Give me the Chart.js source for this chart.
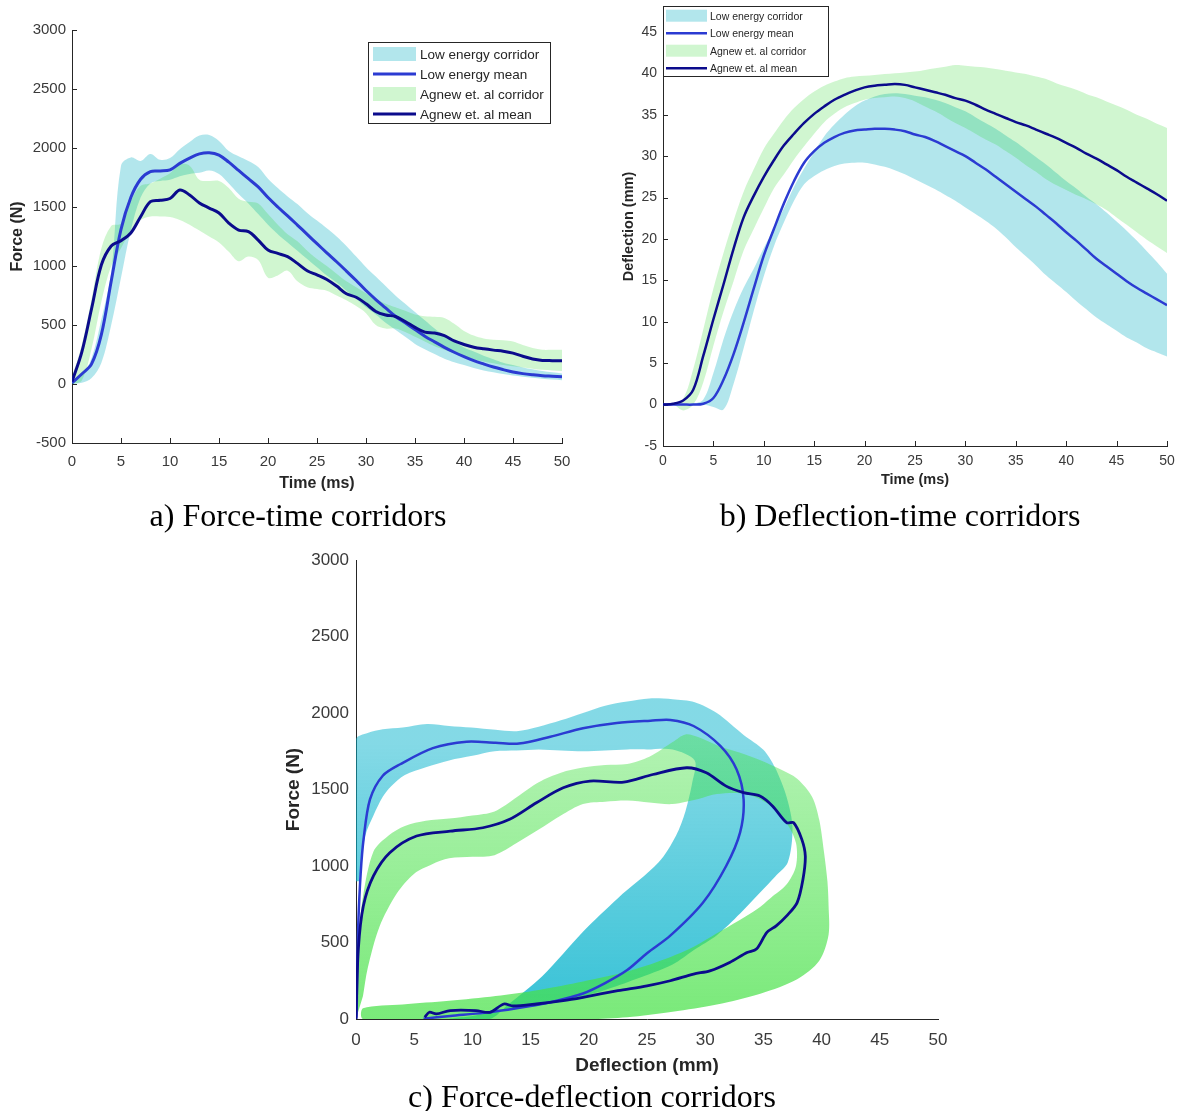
<!DOCTYPE html>
<html><head><meta charset="utf-8">
<script src="https://cdn.jsdelivr.net/npm/chart.js@4.4.1/dist/chart.umd.min.js"></script>
<style>
html,body{margin:0;padding:0;background:#fff;width:1179px;height:1111px;overflow:hidden;position:relative}
canvas{position:absolute}
.cap{position:absolute;font-family:"Liberation Serif","Times New Roman",serif;font-size:32px;line-height:32px;color:#000;white-space:nowrap;transform:translateX(-50%)}
</style></head><body>
<canvas id="ca" width="590" height="500" style="left:0;top:0"></canvas>
<canvas id="cb" width="579" height="500" style="left:600px;top:0"></canvas>
<canvas id="cc" width="700" height="540" style="left:270px;top:540px"></canvas>
<div class="cap" style="left:298px;top:499px">a) Force-time corridors</div>
<div class="cap" style="left:900px;top:499px">b) Deflection-time corridors</div>
<div class="cap" style="left:592px;top:1080px">c) Force-deflection corridors</div>
<script>
// ---------------- DATA ----------------
const timeMs = [0,1,2,3,4,5,6,7,8,9,10,11,12,13,14,15,16,17,18,19,20,21,22,23,24,25,26,27,28,29,30,31,32,33,34,35,36,37,38,39,40,41,42,43,44,45,46,47,48,49,50];

// a) Force-time (N)
const forceLowMean   = [10,85,170,420,870,1310,1580,1735,1800,1805,1815,1870,1915,1950,1960,1940,1880,1810,1740,1670,1580,1500,1425,1347,1268,1189,1112,1036,957,877,792,716,645,574,518,461,405,357,311,269,232,198,170,144,122,102,88,78,70,66,62];
const forceLowUpper  = [30,70,220,550,950,1850,1920,1890,1950,1900,1915,1990,2050,2105,2110,2060,1975,1930,1890,1840,1740,1660,1590,1525,1450,1385,1320,1250,1170,1080,990,910,830,750,680,610,540,470,410,360,310,275,240,210,180,160,140,125,110,100,90];
const forceLowLower  = [0,10,50,180,500,900,1300,1580,1700,1720,1730,1760,1780,1790,1810,1780,1700,1610,1530,1440,1350,1270,1200,1130,1060,990,920,860,790,720,650,590,520,460,400,340,295,255,215,185,160,135,115,100,85,72,62,52,45,38,32];
const forceAgnewMean = [20,270,640,1010,1170,1215,1280,1418,1545,1557,1572,1644,1602,1534,1491,1449,1364,1305,1291,1220,1136,1107,1079,1022,960,925,886,830,765,735,680,615,585,572,530,480,440,432,410,365,335,312,298,287,278,262,235,212,200,198,197];
const forceAgnewUpper= [60,330,720,1150,1340,1360,1550,1680,1700,1740,1785,1860,1850,1730,1720,1720,1660,1570,1545,1530,1440,1350,1270,1210,1130,1060,1000,935,870,820,770,720,680,650,620,590,575,570,560,510,450,410,385,375,370,360,330,305,290,290,290];
const forceAgnewLower= [0,30,300,700,1000,1150,1300,1390,1420,1420,1415,1390,1350,1300,1250,1200,1120,1040,1080,1050,900,920,960,870,820,805,790,750,710,660,600,500,470,470,440,400,360,320,290,260,230,210,190,175,160,150,140,130,120,115,110];

// b) Deflection-time (mm)
const deflLowMean    = [0,0,0,0,0.1,0.8,3.0,6.1,9.9,14,18,21.2,24.3,27,29.2,30.6,31.6,32.3,32.8,33.1,33.2,33.3,33.3,33.2,33.0,32.6,32.3,31.8,31.2,30.6,30.0,29.2,28.4,27.5,26.6,25.7,24.8,23.9,22.9,21.9,20.8,19.8,18.7,17.6,16.7,15.8,14.9,14.1,13.4,12.7,12.0];
const deflLowUpper   = [0,0,0,0.1,0.6,3.8,7.9,11.3,14.1,16.4,18.9,21.3,23.7,26.3,28.5,30.5,32.4,33.8,35.0,36.0,36.7,37.2,37.5,37.6,37.5,37.3,37.1,36.8,36.4,35.9,35.4,34.7,34.0,33.3,32.5,31.7,30.8,29.9,29.0,28.0,27.0,26.1,25.1,24.2,23.2,22.1,21.0,19.8,18.5,17.2,15.8];
const deflLowLower   = [0,0,0,0,0,-0.3,-0.6,2.5,6.8,11.3,15.5,19.1,22.0,24.6,26.6,27.6,28.3,28.8,29.1,29.2,29.2,29.0,28.7,28.3,27.8,27.2,26.6,26.0,25.3,24.6,23.8,23.0,22.2,21.3,20.2,19.0,17.9,16.8,15.6,14.6,13.6,12.5,11.5,10.5,9.7,8.9,8.1,7.5,6.8,6.3,5.8];
const deflAgnewMean  = [0,0.1,0.5,1.8,5.9,10.3,14.5,18.8,22.6,25.2,27.5,29.5,31.3,32.7,34.0,35.1,36.0,36.8,37.4,37.9,38.3,38.5,38.6,38.7,38.6,38.3,38.0,37.7,37.4,37.0,36.7,36.2,35.6,35.1,34.6,34.1,33.7,33.2,32.7,32.2,31.6,31.0,30.3,29.7,29.0,28.3,27.5,26.8,26.1,25.4,24.6];
const deflAgnewUpper = [0,0,0.7,4.3,9.1,14,18.3,22.2,25.7,28.4,30.9,32.7,34.4,35.8,36.9,37.8,38.5,39.0,39.4,39.6,39.7,39.8,39.9,40.0,40.1,40.2,40.4,40.6,40.8,41.0,40.9,40.8,40.7,40.5,40.3,40.1,39.9,39.6,39.3,38.8,38.4,38.0,37.5,37.1,36.6,36.1,35.6,35.0,34.5,33.9,33.4];
const deflAgnewLower = [0,0,-0.7,0,2.7,7.1,11.2,14.9,18.6,21.2,23.7,26.1,27.8,29.6,31.2,32.7,34.1,35.1,35.9,36.4,36.8,37.0,37.1,37.2,37.0,36.6,36.0,35.4,34.7,34.0,33.4,32.7,32.0,31.4,30.6,29.8,28.9,28.1,27.2,26.5,25.9,25.3,24.8,24.2,23.5,22.6,21.7,20.8,19.9,19.1,18.3];

// c) Force-deflection: mean loops (deflection mm, force N)
const fdLowMeanDefl   = [0,0.05,0.1,0.2,0.4,0.65,1.2,2.3,3.8,6.6,9.5,12,14,16.7,19.5,22.4,25.3,27,29,31.3,32.7,33.3,33.0,31.8,29.8,27,25,23.3,21.4,19.5,16.7,13.8,11,8.1,5.8];
const fdLowMeanForce  = [0,20,300,630,950,1175,1435,1590,1665,1770,1812,1805,1800,1845,1900,1935,1950,1955,1915,1785,1630,1435,1220,1000,760,545,430,320,235,167,110,70,40,20,2];
const fdAgnewMeanDefl = [0,0.2,0.63,1.5,2.9,5.2,8.1,10.9,13.2,15.5,17.8,20.1,23,25.5,28.4,30.1,31.8,33.3,34.7,35.8,37.0,37.6,38.3,38.6,38.4,37.9,37.0,36.1,35.3,34.4,33.6,32.1,30.4,29,27,25,22.5,19.5,17.8,15.5,13.5,12.7,11.5,10.3,8.1,6.9,6.3,5.9];
const fdAgnewMeanForce= [0,457,739,935,1087,1196,1228,1250,1305,1413,1511,1555,1548,1598,1642,1609,1522,1479,1457,1391,1283,1283,1174,1065,913,761,674,609,566,457,435,370,315,294,250,217,185,142,120,98,85,98,44,55,55,33,44,11];
// c) corridor outlines (outer edge, then inner edge back)
const fdLowCorridorDefl  = [0,0,0,1,2.3,4,6.1,8,9.9,12,13.8,15.7,17.6,19.5,21.4,23.3,25.2,27.2,29.1,31,33.3,35,36,37,37.5,37.1,36,34.8,33,31,29,27.2,24,21.4,18,15,11.9,10,8,
  11.5,13,16,19.5,22.5,26,27.5,28.3,28.9,29.1,27.2,25,23.3,21.4,19.5,17.6,15.7,13.8,11.9,10,8,6,4.2,3,2.3,1.5,0.8,0.4,0.3];
const fdLowCorridorForce = [900,1400,1830,1870,1893,1905,1928,1915,1905,1890,1881,1910,1952,2000,2048,2075,2095,2090,2071,2000,1857,1760,1643,1450,1250,1024,930,833,690,548,450,357,260,190,120,80,48,20,0,
  0,90,280,571,790,1024,1200,1357,1550,1690,1762,1762,1762,1755,1750,1755,1762,1755,1750,1720,1690,1645,1595,1520,1452,1330,1200,1000,900];
const fdAgnewCorridorDefl  = [0,0,0.2,0.6,1.5,2.8,4.2,6,8,10,11.9,13.8,15.7,17.6,19.5,21.4,23.3,25.2,27.2,28.3,29.5,31,33,34.8,36.5,37.9,39.2,39.8,40.2,40.5,40.6,40.6,39.8,37.9,34.8,31,27.2,23.3,20,10,0.6,
  0.6,4,8,12,15.7,19.5,23.3,26.5,29.1,31,32.9,34.5,35.6,37,37.8,37.8,37,35.5,33.5,31,29.5,27.2,25.2,23.3,21.4,19.5,17.6,15.7,13.8,11.9,10,8,6.5,5,3.5,2,1,0.6];
const fdAgnewCorridorForce = [0,250,500,800,1095,1200,1262,1295,1310,1330,1357,1450,1548,1610,1643,1660,1667,1714,1810,1860,1840,1790,1740,1690,1630,1570,1450,1300,1095,900,740,550,380,260,167,95,48,12,0,0,0,
  70,95,119,150,190,245,310,390,476,560,643,720,790,880,1000,1150,1280,1400,1470,1470,1440,1405,1415,1428,1420,1405,1330,1238,1150,1071,1060,1050,1010,950,820,600,330,150];

const legendLabels = ['Low energy corridor','Low energy mean','Agnew et. al corridor','Agnew et. al mean'];

// ---------------- STYLE ----------------
const LOW_MEAN = '#2b3bd2', AGNEW_MEAN = '#0b0b8c';
const CYAN_AB = 'rgba(0,172,192,0.30)', GREEN_AB = 'rgba(20,210,20,0.20)';
const AXIS = '#262626', TICKC = '#3a3a3a';
const SANS = '"Liberation Sans", Arial, Helvetica, sans-serif';

const pts = (xs, ys) => xs.map((x, i) => ({x, y: ys[i]}));

// vertical gradient (lighter at the top) for the force-deflection corridors
function vGrad(rgb, aBottom, aTop) {
  return (c) => {
    const ch = c.chart, a = ch.chartArea;
    if (!a) return `rgba(${rgb},${aBottom})`;
    const g = ch.ctx.createLinearGradient(0, a.bottom, 0, a.top);
    g.addColorStop(0, `rgba(${rgb},${aBottom})`);
    g.addColorStop(0.3, `rgba(${rgb},${(aBottom + aTop) / 2})`);
    g.addColorStop(0.6, `rgba(${rgb},${aTop})`);
    g.addColorStop(1, `rgba(${rgb},${aTop})`);
    return g;
  };
}

const inwardTicks = {
  id: 'inwardTicks',
  beforeDatasetsDraw(chart, args, o) {
    const ctx = chart.ctx, a = chart.chartArea, len = o.length || 5;
    const xs = chart.scales.x, ys = chart.scales.y;
    ctx.save(); ctx.strokeStyle = AXIS; ctx.lineWidth = 1; ctx.beginPath();
    xs.ticks.forEach(t => { const p = Math.round(xs.getPixelForValue(t.value)) + 0.5; ctx.moveTo(p, a.bottom); ctx.lineTo(p, a.bottom - len); });
    ys.ticks.forEach(t => { const p = Math.round(ys.getPixelForValue(t.value)) + 0.5; ctx.moveTo(a.left, p); ctx.lineTo(a.left + len, p); });
    ctx.stroke(); ctx.restore();
  }
};
const boxLegend = {
  id: 'boxLegend',
  afterDraw(chart, args, o) {
    if (!o || !o.items) return;
    const ctx = chart.ctx;
    ctx.save();
    ctx.fillStyle = '#fff'; ctx.fillRect(o.x, o.y, o.w, o.h);
    ctx.strokeStyle = AXIS; ctx.lineWidth = 1; ctx.strokeRect(o.x + 0.5, o.y + 0.5, o.w, o.h);
    ctx.font = o.font; ctx.textBaseline = 'middle'; ctx.textAlign = 'left';
    o.items.forEach((it, i) => {
      const cy = o.y + o.first + i * o.row;
      if (it.type === 'fill') { ctx.fillStyle = it.color; ctx.fillRect(o.x + o.sx, cy - o.sh / 2, o.sw, o.sh); }
      else { ctx.strokeStyle = it.color; ctx.lineWidth = it.width; ctx.beginPath(); ctx.moveTo(o.x + o.sx, cy); ctx.lineTo(o.x + o.sx + o.sw, cy); ctx.stroke(); }
      ctx.fillStyle = AXIS; ctx.fillText(legendLabels[i], o.x + o.tx, cy + 1);
    });
    ctx.restore();
  }
};

function axisCfg(min, max, step, tickSize, tickPad, title, titleSize, titlePad, fitKey, fitVal) {
  return {
    type: 'linear', min, max,
    ticks: {stepSize: step, includeBounds: false, autoSkip: false, maxRotation: 0, color: TICKC, padding: tickPad,
            font: {family: SANS, size: tickSize}, callback: v => String(v)},
    grid: {display: false, drawTicks: false},
    border: {display: true, color: AXIS, width: 1},
    title: {display: true, text: title, color: AXIS, padding: titlePad, font: {family: SANS, size: titleSize, weight: 'bold'}},
    afterFit: s => {
      s[fitKey] = fitVal;
      if (fitKey === 'width') { s.paddingTop = 0; s.paddingBottom = 0; }
      else { s.paddingLeft = 0; s.paddingRight = 0; }
    }
  };
}

function timeChart(id, lowMean, lowU, lowL, agMean, agU, agL, opts) {
  const lineDs = (data, color, w) => ({data: pts(timeMs, data), borderColor: color, borderWidth: w, pointRadius: 0, tension: 0.35, fill: false});
  const bandDs = (data, color, fill) => ({data: pts(timeMs, data), borderWidth: 0, borderColor: 'transparent', backgroundColor: color, pointRadius: 0, tension: 0.35, fill});
  return new Chart(document.getElementById(id), {
    type: 'line',
    data: {datasets: [
      lineDs(agMean, AGNEW_MEAN, opts.lw),
      lineDs(lowMean, LOW_MEAN, opts.lw),
      bandDs(agU, GREEN_AB, '+1'), bandDs(agL, GREEN_AB, false),
      bandDs(lowU, CYAN_AB, '+1'), bandDs(lowL, CYAN_AB, false)
    ]},
    options: opts.options,
    plugins: [inwardTicks, boxLegend]
  });
}

const baseOpts = {responsive: false, animation: false, events: [],
  plugins: {legend: {display: false}, tooltip: {enabled: false}}};

// ---------- chart a ----------
timeChart('ca', forceLowMean, forceLowUpper, forceLowLower, forceAgnewMean, forceAgnewUpper, forceAgnewLower, {
  lw: 3,
  options: Object.assign({}, baseOpts, {
    layout: {padding: {top: 30, right: 28, left: 0, bottom: 0}},
    scales: {
      x: axisCfg(0, 50, 5, 15, 9.5, 'Time (ms)', 16, {top: 0, bottom: 7}, 'height', 57),
      y: axisCfg(-500, 3000, 500, 15, 6, 'Force (N)', 16, {top: 8, bottom: 0}, 'width', 72)
    },
    plugins: Object.assign({}, baseOpts.plugins, {
      inwardTicks: {length: 5},
      boxLegend: {x: 368, y: 42, w: 182, h: 81, first: 12, row: 20, sx: 5, sw: 43, sh: 14, tx: 52,
        font: '13.5px ' + SANS,
        items: [{type: 'fill', color: CYAN_AB}, {type: 'line', color: LOW_MEAN, width: 3},
                {type: 'fill', color: GREEN_AB}, {type: 'line', color: AGNEW_MEAN, width: 3}]}
    })
  })
});

// ---------- chart b ----------
timeChart('cb', deflLowMean, deflLowUpper, deflLowLower, deflAgnewMean, deflAgnewUpper, deflAgnewLower, {
  lw: 2.5,
  options: Object.assign({}, baseOpts, {
    layout: {padding: {top: 7, right: 12, left: 0, bottom: 0}},
    scales: {
      x: axisCfg(0, 50, 5, 14, 7, 'Time (ms)', 14.5, {top: 0, bottom: 11}, 'height', 54),
      y: axisCfg(-5, 48, 5, 14, 6, 'Deflection (mm)', 14.5, {top: 20, bottom: 0}, 'width', 63)
    },
    plugins: Object.assign({}, baseOpts.plugins, {
      inwardTicks: {length: 5},
      boxLegend: {x: 63, y: 6, w: 165, h: 70, first: 9.7, row: 17.5, sx: 3, sw: 41, sh: 12, tx: 47,
        font: '10.5px ' + SANS,
        items: [{type: 'fill', color: CYAN_AB}, {type: 'line', color: LOW_MEAN, width: 2.5},
                {type: 'fill', color: GREEN_AB}, {type: 'line', color: AGNEW_MEAN, width: 2.5}]}
    })
  })
});

// ---------- chart c ----------
new Chart(document.getElementById('cc'), {
  type: 'line',
  data: {datasets: [
    {data: pts(fdAgnewMeanDefl, fdAgnewMeanForce), borderColor: AGNEW_MEAN, borderWidth: 2.8, pointRadius: 0, tension: 0.3, fill: false},
    {data: pts(fdLowMeanDefl, fdLowMeanForce), borderColor: LOW_MEAN, borderWidth: 2.5, pointRadius: 0, tension: 0.3, fill: false},
    {data: pts(fdAgnewCorridorDefl, fdAgnewCorridorForce), indexAxis: 'y', borderWidth: 0, borderColor: 'transparent',
     backgroundColor: vGrad('70,225,70', 0.72, 0.42), pointRadius: 0, tension: 0.3, fill: 'shape'},
    {data: pts(fdLowCorridorDefl, fdLowCorridorForce), indexAxis: 'y', borderWidth: 0, borderColor: 'transparent',
     backgroundColor: vGrad('10,180,205', 0.82, 0.5), pointRadius: 0, tension: 0.3, fill: 'shape'}
  ]},
  options: Object.assign({}, baseOpts, {
    layout: {padding: {top: 20, right: 32, left: 0, bottom: 0}},
    scales: {
      x: axisCfg(0, 50, 5, 17, 11.5, 'Deflection (mm)', 19, {top: 0, bottom: 3}, 'height', 61),
      y: axisCfg(0, 3000, 500, 17, 7, 'Force (N)', 19, {top: 12, bottom: 0}, 'width', 86)
    },
    plugins: Object.assign({}, baseOpts.plugins, {
      inwardTicks: {length: 6},
      boxLegend: {x: 438, y: 35, w: 216, h: 92, first: 13.5, row: 22.5, sx: 4, sw: 54, sh: 16, tx: 62,
        font: '15.5px ' + SANS,
        items: [{type: 'fill', color: '#80d9e2'}, {type: 'line', color: LOW_MEAN, width: 3},
                {type: 'fill', color: '#aaecaa'}, {type: 'line', color: AGNEW_MEAN, width: 3}]}
    })
  })
});
</script>
</body></html>
